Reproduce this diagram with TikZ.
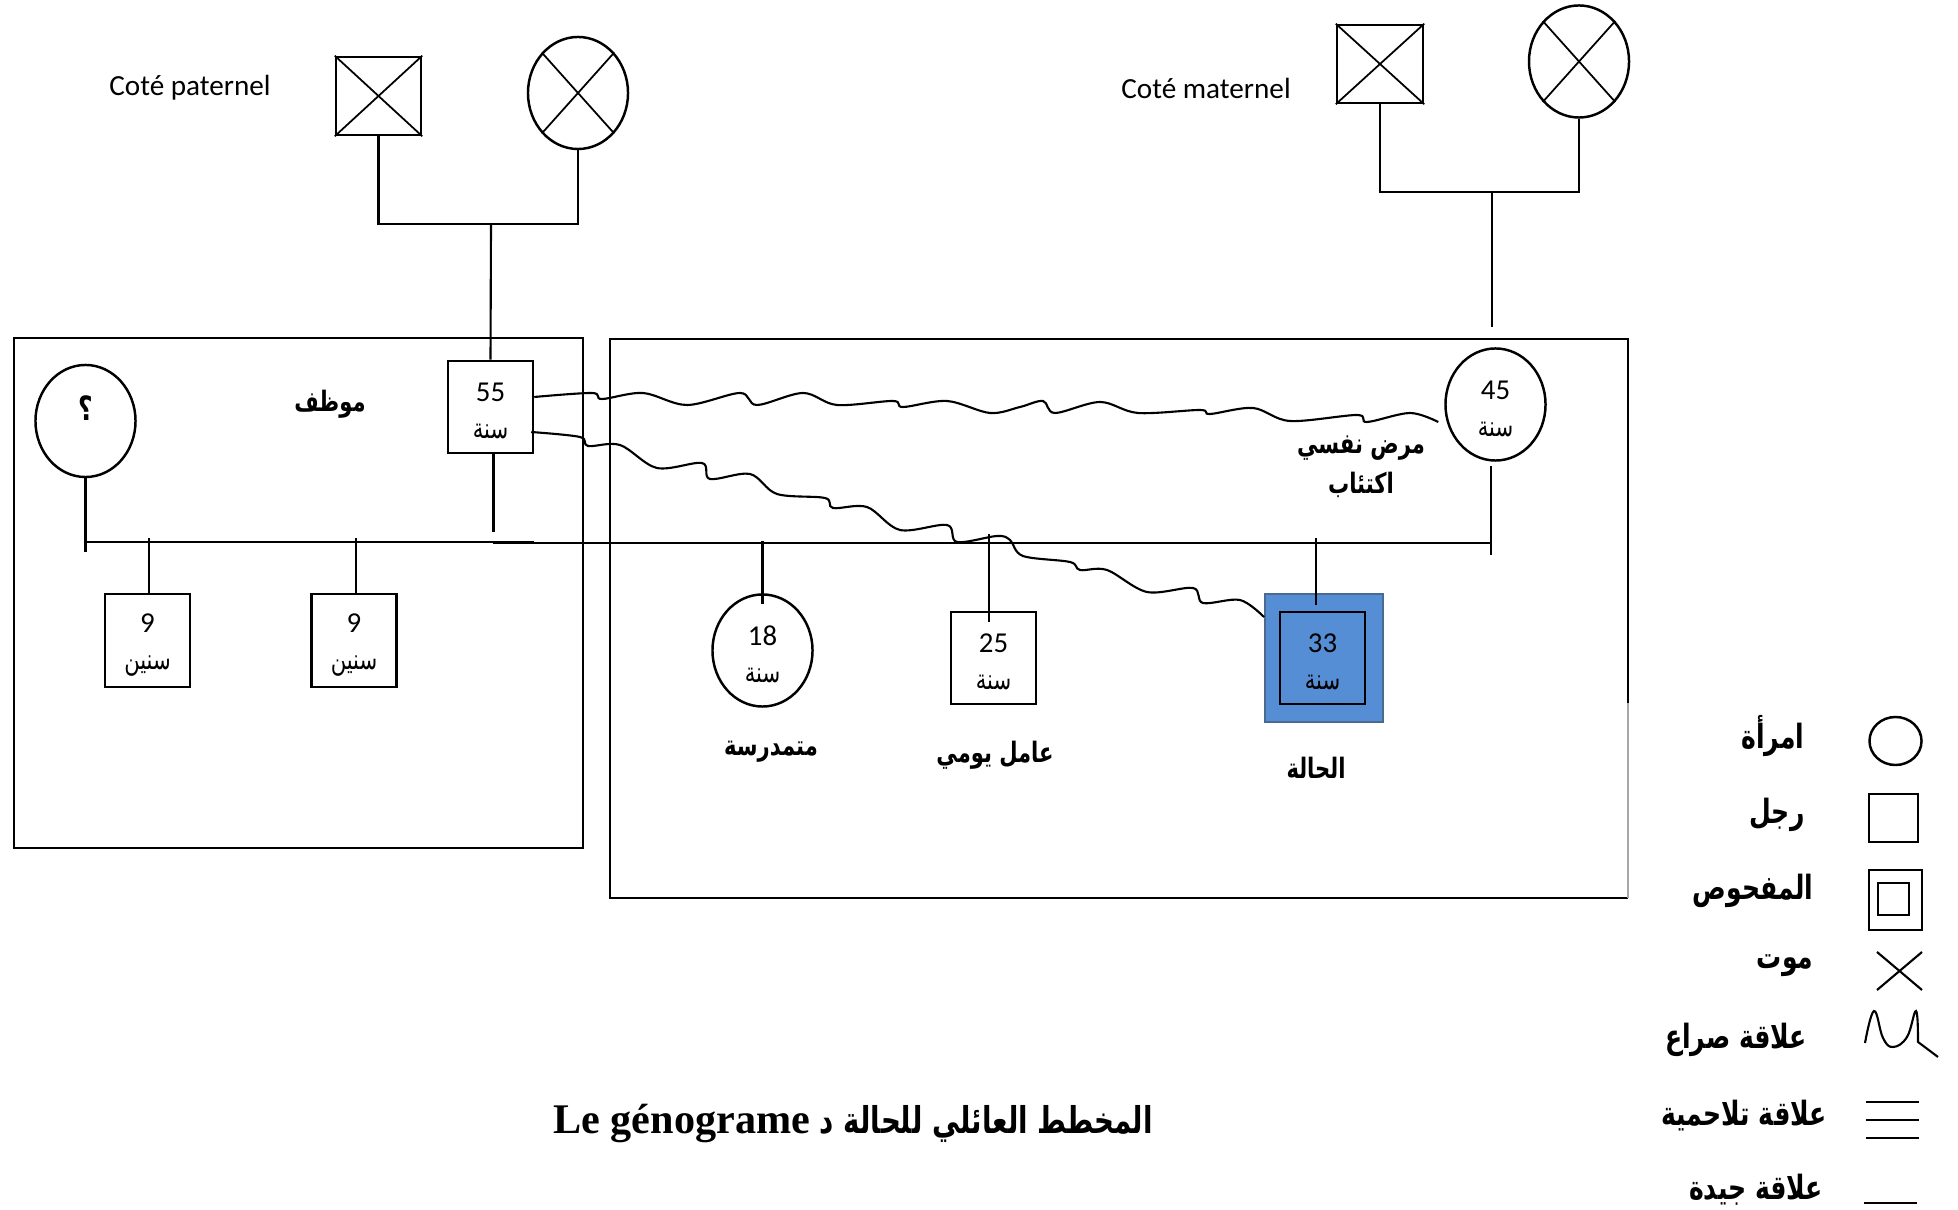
\documentclass[tikz,border=0pt]{standalone}
\usepackage{fontspec}
\usepackage{xcolor}
\usepackage{tikz}
\usetikzlibrary{shapes.geometric, positioning, calc}
\setmainfont{Carlito}
\newfontfamily\arabicfont[Script=Arabic, FakeStretch=0.75]{DejaVu Sans}
\newfontfamily\titlefont{Liberation Serif}
\TeXXeTstate=1
\definecolor{caseBlue}{HTML}{558ED5}
\definecolor{caseEdge}{HTML}{4A6A8F}
\newcommand{\ageof}[2]{\rule{0pt}{7.7pt}#1\\{\arabicfont\fontsize{8}{9}\selectfont\beginR #2\endR}}
\newcommand{\arb}[1]{\beginR #1\endR}

\begin{document}
\begin{tikzpicture}[
    x=0.01cm, y=-0.01cm,
    tie/.style={line width=0.6pt},
    frame/.style={line width=0.75pt},
    person/.style={
        draw, line width=0.7pt, inner sep=0pt, align=center,
        font=\fontsize{8.2}{10.5}\selectfont
    },
    male/.style={person, rectangle, minimum width=0.85cm, minimum height=0.92cm},
    female/.style={person, ellipse, minimum width=1cm, minimum height=1.12cm},
    latinlbl/.style={font=\fontsize{8.3}{10}\selectfont},
    arlbl/.style={font=\arabicfont\bfseries\fontsize{8}{10}\selectfont},
    leglbl/.style={font=\arabicfont\bfseries\fontsize{9.5}{11}\selectfont},
]
    \useasboundingbox (0,0) rectangle (1958,1210);

    % grandparents
    \node[latinlbl] (patlbl) at (190,88) {Coté paternel};
    \node[male, minimum height=0.78cm] (pgf) at (378.5,96) {};
    \node[female] (pgm) at (578,93) {};
    \node[latinlbl] (matlbl) at (1206,88) {Coté maternel};
    \node[male, minimum width=0.86cm, minimum height=0.78cm] (mgf) at (1380,64) {};
    \node[female] (mgm) at (1579,61.5) {};
    \foreach \p in {pgf, pgm, mgf, mgm} {
        \draw[line width=0.5pt] (\p.north west) -- (\p.south east);
        \draw[line width=0.5pt] (\p.north east) -- (\p.south west);
    }
    \coordinate (pj) at (491,224);
    \coordinate (mj) at (1492,192);
    \draw[tie] (pgf.south) |- (pj) -| (pgm.south);
    \draw[tie] (mgf.south) |- (mj) -| (mgm.south);

    % the two households
    \draw[frame] (14,338) rectangle (583,848);
    \draw[frame] (1628,703) -- (1628,339) -- (610,339) -- (610,898) -- (1628,898);
    \draw[gray!70, line width=0.4pt] (1628,703) -- (1628,898);

    % parents
    \node[female] (q) at (85.5,421) {\raisebox{0pt}[0pt][0pt]{\arabicfont\bfseries\fontsize{9.5}{10}\selectfont ؟}};
    \node[arlbl] (job55) at (330,404) {\arb{موظف}};
    \node[male] (f55) at (490.5,407) {\ageof{55}{سنة}};
    \node[female] (m45) at (1495.5,404.5) {\ageof{45}{سنة}};
    \node[arlbl] (ill) at (1361,448) {\arb{مرض نفسي}};
    \node[arlbl] (dep) at (1361,485) {\arb{اكتئاب}};
    \draw[tie] (pj) -- (f55.north);
    \draw[tie] (mj) -- ++(0,-1.35cm);

    % marriage lines
    \draw[tie] (q.south) -- ++(0,-0.74cm);
    \draw[tie] (86,542) -- (534,542);
    \draw[tie] ([xshift=0.03cm]f55.south) -- ++(0,-0.78cm);
    \draw[tie] (493,543) -- (1491,543);
    \draw[tie] ([xshift=-0.045cm,yshift=-0.04cm]m45.south) -- ++(0,-0.89cm);

    % children of the first union
    \node[male, minimum height=0.93cm] (c1) at (147.5,640.5) {\ageof{9}{سنين}};
    \node[male, minimum height=0.93cm] (c2) at (354,640.5) {\ageof{9}{سنين}};
    \draw[tie] ([xshift=0.015cm]c1.north) -- ++(0,0.55cm);
    \draw[tie] ([xshift=0.02cm]c2.north) -- ++(0,0.55cm);

    % children of the second union
    \node[female] (d18) at (762.5,650.5) {\ageof{18}{سنة}};
    \node[male] (s25) at (993.5,658) {\ageof{25}{سنة}};
    \node[draw=caseEdge, line width=0.5pt, fill=caseBlue, minimum width=1.18cm, minimum height=1.28cm, inner sep=0pt] (case) at (1324,658) {};
    \node[male] (c33) at (1322.5,658) {\ageof{33}{سنة}};
    \draw[tie] ([yshift=-0.11cm]d18.north) -- ++(0,0.63cm);
    \draw[tie] ([xshift=-0.045cm,yshift=-0.11cm]s25.north) -- ++(0,0.88cm);
    \draw[tie] ([xshift=-0.08cm,yshift=-0.12cm]case.north) -- ++(0,0.67cm);
    \node[arlbl] (school) at (771,752) {\arb{متمدرسة}};
    \node[arlbl] (worker) at (995,755) {\arb{عامل يومي}};
    \node[arlbl] (caselbl) at (1316,768) {\arb{الحالة}};

    % conflict relations
    \draw[tie] plot[smooth, tension=0.55] coordinates {([yshift=0.1cm]f55.east) (592,393) (602,399) (643,393)
        (687,405) (740,393) (757,405) (803,393) (837,405) (893,401) (903,407) (947,401) (990,413) (1020,407)
        (1043,401) (1055,413) (1100,402) (1138,413) (1200,410) (1210,414) (1253,408) (1290,421) (1357,415)
        (1367,422) (1410,413) ([xshift=-0.06cm,yshift=-0.175cm]m45.west)};
    \draw[tie] plot[smooth, tension=0.55] coordinates {([xshift=-0.03cm,yshift=-0.25cm]f55.east) (580,437)
        (588,446) (620,445) (657,468) (702,463) (710,479) (750,474) (777,494) (825,498) (833,508) (867,507)
        (900,530) (947,525) (957,542) (997,536) (1010,540) (1023,556) (1070,562) (1080,570) (1107,570)
        (1147,592) (1193,588) (1203,603) (1240,600) ([yshift=-0.24cm]case.north west)};

    % legend
    \node[leglbl] (lgW) at (1773,736) {\arb{امرأة}};
    \node[person, ellipse, minimum width=0.52cm, minimum height=0.48cm] (lgF) at (1895.5,741) {};
    \node[leglbl] (lgM) at (1777,815) {\arb{رجل}};
    \node[person, minimum width=0.49cm, minimum height=0.48cm] (lgMs) at (1893.5,818) {};
    \node[leglbl] (lgP) at (1753,891) {\arb{المفحوص}};
    \node[person, minimum width=0.53cm, minimum height=0.595cm] (lgPo) at (1895.5,900) {};
    \node[person, minimum width=0.31cm, minimum height=0.32cm] (lgPi) at (1893.5,899) {};
    \node[leglbl] (lgD) at (1785,966) {\arb{موت}};
    \draw[tie] (1877,952) -- (1922,990);
    \draw[tie] (1922,952) -- (1877,990);
    \node[leglbl] (lgC) at (1736,1040) {\arb{علاقة صراع}};
    \draw[tie] plot[smooth, tension=0.7] coordinates {(1865,1043) (1874,1011) (1883,1038) (1893,1047)
        (1907,1037) (1916,1011) (1918,1042)} -- (1938,1057);
    \node[leglbl] (lgU) at (1744,1116) {\arb{علاقة تلاحمية}};
    \foreach \yy in {1102,1120,1138}
        \draw[tie] (1866,\yy) -- (1919,\yy);
    \node[leglbl] (lgG) at (1756,1190) {\arb{علاقة جيدة}};
    \draw[tie] (1864,1203) -- (1917,1203);

    % title
    \node[font=\arabicfont\bfseries\fontsize{10.5}{12}\selectfont] (title) at (853,1123)
        {\beginR المخطط العائلي للحالة د \beginL{\titlefont\fontsize{12}{14}\selectfont Le génograme}\endL\endR};
\end{tikzpicture}
\end{document}
